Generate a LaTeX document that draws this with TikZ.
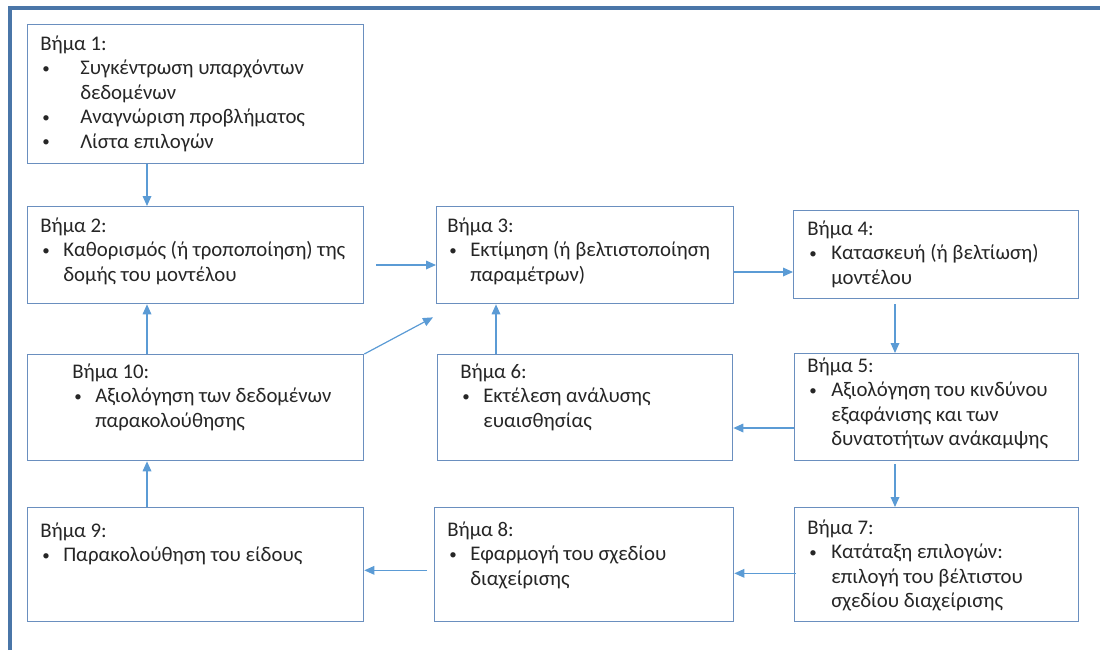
\documentclass[tikz,border=0pt]{standalone}
\usepackage{fontspec}
\usepackage{graphicx}
\setmainfont{Carlito}
\usetikzlibrary{arrows.meta,calc}
\definecolor{boxline}{HTML}{6A8FBF}
\definecolor{arrowblue}{HTML}{5B9BD5}
\definecolor{framecol}{HTML}{4A76A8}
\newcommand{\steptext}[3]{\begin{tabular}[t]{@{}p{#1}@{}l@{}}\multicolumn{2}{@{}l@{}}{#2}\\#3\end{tabular}}
\newcommand{\bul}{\hspace{1.5pt}\raisebox{0.15ex}{\scalebox{0.72}{\textbullet}}}
\begin{document}
\begin{tikzpicture}[x=0.75pt,y=-0.75pt,
  font=\fontsize{15.6}{18.4}\selectfont,
  stepbox/.style={draw=boxline,line width=1pt,fill=white,anchor=north west,inner sep=0pt},
  steptxt/.style={anchor=base west,inner sep=0pt,text=black!85},
  arr/.style={draw=arrowblue,line width=0.9pt,-{Triangle[length=7.5pt,width=6.5pt]}}]
\useasboundingbox (0,0) rectangle (1100,650);
% frame
\draw[framecol,line width=3pt] (10,650) -- (10,8) -- (1100,8);
% boxes
\node[stepbox,minimum width=336*0.75pt,minimum height=139*0.75pt] (b1) at (27,24) {};
\node[stepbox,minimum width=336*0.75pt,minimum height=97*0.75pt] (b2) at (27,206) {};
\node[stepbox,minimum width=297*0.75pt,minimum height=97*0.75pt] (b3) at (436,206) {};
\node[stepbox,minimum width=285*0.75pt,minimum height=88*0.75pt] (b4) at (793,210) {};
\node[stepbox,minimum width=284*0.75pt,minimum height=107*0.75pt] (b5) at (794,353) {};
\node[stepbox,minimum width=295*0.75pt,minimum height=106*0.75pt] (b6) at (437,354) {};
\node[stepbox,minimum width=336*0.75pt,minimum height=106*0.75pt] (b10) at (27,354) {};
\node[stepbox,minimum width=336*0.75pt,minimum height=114*0.75pt] (b9) at (27,507) {};
\node[stepbox,minimum width=299*0.75pt,minimum height=114*0.75pt] (b8) at (434,507) {};
\node[stepbox,minimum width=284*0.75pt,minimum height=114*0.75pt] (b7) at (794,507) {};
% texts
\node[steptxt] (t1) at (40,50) {\steptext{30pt}{Βήμα 1:}{\bul & Συγκέντρωση υπαρχόντων\\ & δεδομένων\\ \bul & Αναγνώριση προβλήματος\\ \bul & Λίστα επιλογών}};
\node[steptxt] (t2) at (40,232) {\steptext{17.25pt}{Βήμα 2:}{\bul & Καθορισμός (ή τροποποίηση) της\\ & δομής του μοντέλου}};
\node[steptxt] (t3) at (447,232) {\steptext{17.25pt}{Βήμα 3:}{\bul & Εκτίμηση (ή βελτιστοποίηση\\ & παραμέτρων)}};
\node[steptxt] (t4) at (807,235) {\steptext{18pt}{Βήμα 4:}{\bul & Κατασκευή (ή βελτίωση)\\ & μοντέλου}};
\node[steptxt] (t5) at (807,372) {\steptext{18pt}{Βήμα 5:}{\bul & Αξιολόγηση του κινδύνου\\ & εξαφάνισης και των\\ & δυνατοτήτων ανάκαμψης}};
\node[steptxt] (t6) at (460,378) {\steptext{17.25pt}{Βήμα 6:}{\bul & Εκτέλεση ανάλυσης\\ & ευαισθησίας}};
\node[steptxt] (t10) at (72,378) {\steptext{17.25pt}{Βήμα 10:}{\bul & Αξιολόγηση των δεδομένων\\ & παρακολούθησης}};
\node[steptxt] (t9) at (40,537) {\steptext{17.25pt}{Βήμα 9:}{\bul & Παρακολούθηση του είδους}};
\node[steptxt] (t8) at (447,536) {\steptext{17.25pt}{Βήμα 8:}{\bul & Εφαρμογή του σχεδίου\\ & διαχείρισης}};
\node[steptxt] (t7) at (807,534) {\steptext{18pt}{Βήμα 7:}{\bul & Κατάταξη επιλογών:\\ & επιλογή του βέλτιστου\\ & σχεδίου διαχείρισης}};
% connector end points
\coordinate (s12) at ($(b1.south west)+(120,0)$);
\coordinate (s102) at ($(b10.north west)+(120,0)$);
\coordinate (s910) at ($(b9.north west)+(120,0)$);
\coordinate (s23) at ($(b2.north east)+(12,59)$);
\coordinate (s34) at ($(b3.north east)+(0,66)$);
\coordinate (s45) at ($(b4.south west)+(102,5)$);
\coordinate (s56) at ($(b5.north west)+(0,75)$);
\coordinate (s63) at ($(b6.north west)+(59,0)$);
\coordinate (e103) at ($(b3.south west)+(-3,13)$);
\coordinate (s57) at ($(b5.south west)+(101,3)$);
\coordinate (s78) at ($(b7.south west)+(2,-49)$);
\coordinate (s89) at ($(b8.south west)+(-7,-52)$);
% connectors
\draw[arr] (s12) -- (s12 |- b2.north);
\draw[arr] (s102) -- (s102 |- b2.south);
\draw[arr] (s910) -- (s910 |- b10.south);
\draw[arr] (s23) -- (s23 -| b3.west);
\draw[arr] (s34) -- (s34 -| b4.west);
\draw[arr] (s45) -- (s45 |- b5.north);
\draw[arr] (s56) -- (s56 -| b6.east);
\draw[arr] (s63) -- (s63 |- b3.south);
\draw[arr] (b10.north east) -- (e103);
\draw[arr] (s57) -- (s57 |- b7.north);
\draw[arr] (s78) -- (s78 -| b8.east);
\draw[arr] (s89) -- (s89 -| b9.east);
\end{tikzpicture}
\end{document}
